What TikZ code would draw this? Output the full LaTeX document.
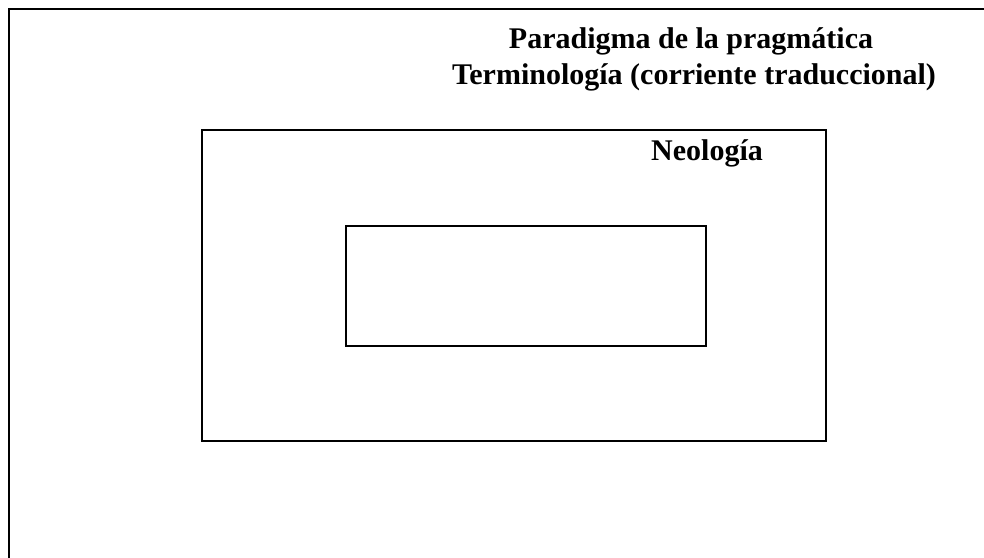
\documentclass[tikz,border=0pt]{standalone}
\usepackage{fontspec}
\setmainfont{Liberation Serif}
\begin{document}
\begin{tikzpicture}[x=1pt,y=-1pt,
  frame/.style={draw=black,line width=2.2pt},
  lbl/.style={anchor=base,inner sep=0pt,font=\bfseries\fontsize{30}{36}\selectfont}]
\useasboundingbox (0,0) rectangle (984,557);
\coordinate (tl) at (9,9);
\coordinate (tr) at (990,9);
\coordinate (bl) at (9,565);
\draw[frame] (tr) -- (tl) -- (bl);
\node[frame,minimum width=624pt,minimum height=311pt,inner sep=0pt,anchor=north west] (mid) at (201,129) {};
\node[frame,minimum width=360pt,minimum height=120pt,inner sep=0pt,anchor=north west] (inner) at (345,225) {};
\node[lbl] (t1) at (691,48) {Paradigma de la pragmática};
\node[lbl] (t2) at (694,84) {Terminología (corriente traduccional)};
\node[lbl] (neo) at (707,160) {Neología};
\end{tikzpicture}
\end{document}
